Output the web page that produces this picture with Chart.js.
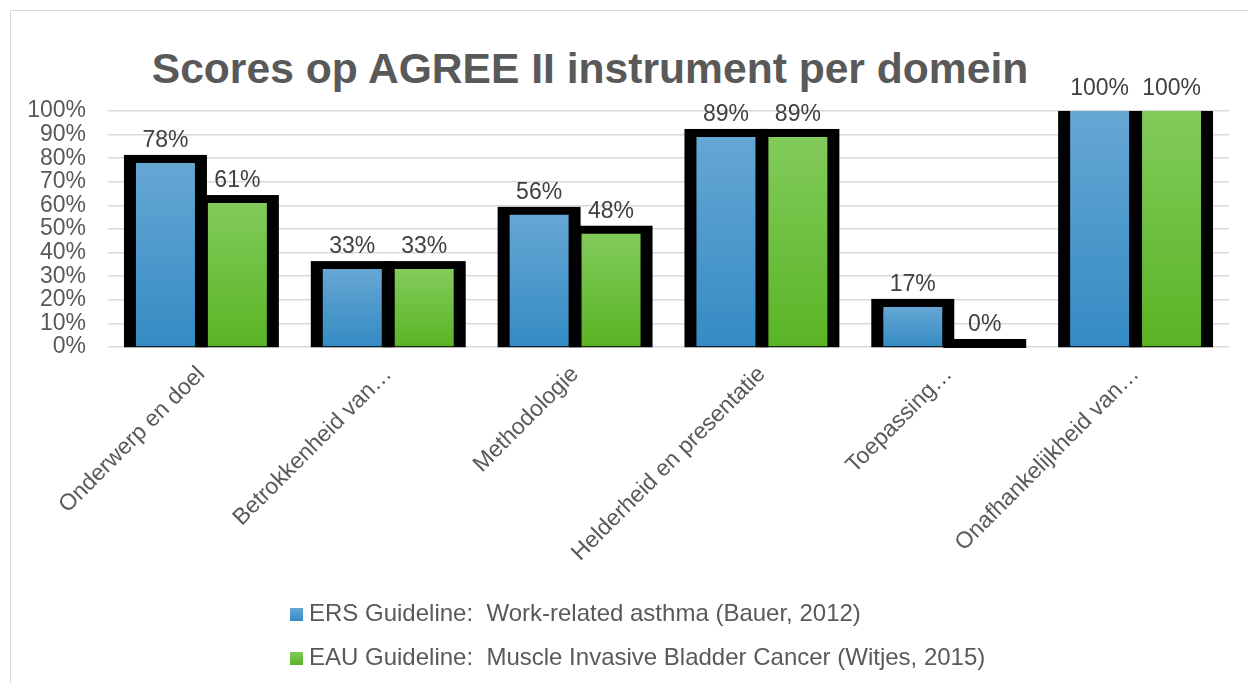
<!DOCTYPE html>
<html lang="nl">
<head>
  <meta charset="UTF-8" />
  <title>Scores op AGREE II instrument per domein</title>
  <script src="https://cdn.jsdelivr.net/npm/chart.js"></script>
  <style>
    body {
      margin: 0;
      background: white;
      font-family: "Liberation Sans", Arial, sans-serif;
      color: #595959;
      width: 1248px;
      height: 683px;
      overflow: hidden;
      position: relative;
    }
    .frame {
      position: absolute;
      left: 10px;
      top: 10px;
      width: 1260px;
      height: 700px;
      border: 1px solid #d9d9d9;
    }
    .title {
      position: absolute;
      left: 0;
      top: 44px;
      width: 1180px;
      text-align: center;
      font-size: 42.6px;
      line-height: 48px;
      font-weight: bold;
      color: #595959;
    }
    #wrap {
      position: absolute;
      left: 0;
      top: 0;
      width: 1248px;
      height: 600px;
    }
    .legend {
      position: absolute;
      left: 290px;
      top: 591px;
      font-size: 24px;
      line-height: 44px;
    }
    .legend .sw {
      display: inline-block;
      width: 13px;
      height: 13px;
      margin-right: 6px;
      vertical-align: 0px;
    }
  </style>
</head>
<body>
  <div class="frame"></div>
  <div class="title">Scores op AGREE II instrument per domein</div>
  <div id="wrap"><canvas id="chart"></canvas></div>
  <div class="legend" id="legend"></div>

  <script>
    const categories = ["Onderwerp en doel", "Betrokkenheid van…", "Methodologie",
                        "Helderheid en presentatie", "Toepassing…", "Onafhankelijkheid van…"];
    const ersLabel = "ERS Guideline:  Work-related asthma (Bauer, 2012)";
    const eauLabel = "EAU Guideline:  Muscle Invasive Bladder Cancer (Witjes, 2015)";
    const ersScores = [78, 33, 56, 89, 17, 100];
    const eauScores = [61, 33, 48, 89, 0, 100];
    const blue = ["#66a7d4", "#348bc3"];
    const green = ["#82cb5c", "#5ab424"];
    const font = '"Liberation Sans", Arial, sans-serif';

    // vertical gradient per bar, from its top down to the zero line
    function barFill(cols) {
      return ctx => {
        const chart = ctx.chart;
        const y = chart.scales.y;
        if (!y || ctx.raw === undefined) return cols[1];
        const top = y.getPixelForValue(ctx.raw), base = y.getPixelForValue(0);
        if (!isFinite(top) || !isFinite(base) || base - top < 1) return cols[1];
        const g = chart.ctx.createLinearGradient(0, top, 0, base);
        g.addColorStop(0, cols[0]);
        g.addColorStop(1, cols[1]);
        return g;
      };
    }

    // thick black frame behind every bar, cut off at the plot top
    const outlines = {
      id: "outlines",
      beforeDatasetsDraw(chart) {
        const c = chart.ctx;
        c.save();
        c.fillStyle = "#000";
        chart.data.datasets.forEach((ds, i) => {
          chart.getDatasetMeta(i).data.forEach(bar => {
            const l = bar.x - bar.width / 2 - 12, r = bar.x + bar.width / 2 + 12;
            const t = Math.max(bar.y - 8, chart.chartArea.top);
            c.fillRect(l, t, r - l, bar.base - t + 1);
          });
        });
        c.restore();
      }
    };

    const valueLabels = {
      id: "valueLabels",
      afterDatasetsDraw(chart) {
        const c = chart.ctx;
        c.save();
        c.font = "23px " + font;
        c.fillStyle = "#404040";
        c.textAlign = "center";
        c.textBaseline = "alphabetic";
        chart.data.datasets.forEach((ds, i) => {
          chart.getDatasetMeta(i).data.forEach((bar, j) => {
            c.fillText(ds.data[j] + "%", bar.x, bar.y - 16);
          });
        });
        c.restore();
      }
    };

    const chart = new Chart(document.getElementById("chart"), {
      type: "bar",
      data: {
        labels: categories,
        datasets: [
          { label: ersLabel, data: ersScores, backgroundColor: barFill(blue), legendColor: blue },
          { label: eauLabel, data: eauScores, backgroundColor: barFill(green), legendColor: green }
        ]
      },
      options: {
        responsive: true,
        maintainAspectRatio: false,
        animation: false,
        categoryPercentage: 0.77,
        barPercentage: 0.82,
        layout: { padding: { top: 111, right: 19, left: 0, bottom: 0 } },
        plugins: {
          legend: { display: false },
          tooltip: { enabled: false }
        },
        scales: {
          x: {
            grid: { display: false },
            border: { display: false },
            ticks: {
              minRotation: 45,
              maxRotation: 45,
              autoSkip: false,
              color: "#595959",
              padding: 6,
              font: { family: font, size: 23 }
            },
            afterFit: a => { a.height = 600 - 347; }
          },
          y: {
            min: 0,
            max: 100,
            grid: { color: "#d9d9d9", lineWidth: 1.5, drawTicks: false },
            border: { display: false },
            ticks: {
              stepSize: 10,
              autoSkip: false,
              padding: 22,
              color: "#595959",
              font: { family: font, size: 23 },
              callback: v => v + "%"
            },
            afterFit: a => { a.width = 108; }
          }
        }
      },
      plugins: [outlines, valueLabels]
    });

    const legend = document.getElementById("legend");
    chart.data.datasets.forEach(ds => {
      const row = document.createElement("div");
      const sw = document.createElement("span");
      sw.className = "sw";
      sw.style.background = `linear-gradient(${ds.legendColor[0]}, ${ds.legendColor[1]})`;
      row.appendChild(sw);
      row.appendChild(document.createTextNode(ds.label));
      row.style.whiteSpace = "pre";
      legend.appendChild(row);
    });
  </script>
</body>
</html>
